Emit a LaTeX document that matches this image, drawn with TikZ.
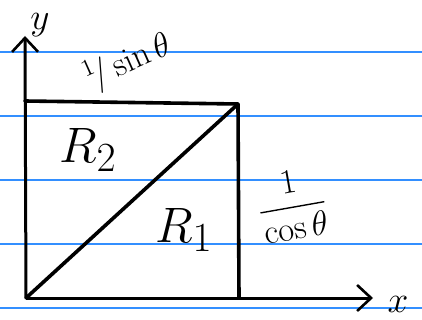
\documentclass[tikz,border=0pt]{standalone}
\usepackage{amsmath}
\usetikzlibrary{arrows.meta}
\begin{document}
\begin{tikzpicture}[x=1pt,y=-1pt,
  ruled/.style={draw=blue!55!cyan!80, line width=1.3pt},
  axisline/.style={line width=3pt, -{Straight Barb[length=14pt,width=26pt,line width=2.6pt]}},
  edge/.style={line width=3.6pt, line cap=round, line join=round},
  lbl/.style={inner sep=0pt, font=\huge, scale=1.8, transform shape},
  big/.style={inner sep=0pt, font=\Huge, scale=2, transform shape},
  frac/.style={inner sep=0pt, font=\LARGE, scale=2, transform shape}]
\useasboundingbox (0,0) rectangle (422,320);
\fill[white] (0,0) rectangle (422,320);
% ruled paper lines
\foreach \yy in {52,116,180,244,308}
  \draw[ruled] (0,\yy) -- (422,\yy);
% corners
\coordinate (O) at (26,298);
\coordinate (A) at (25,101);
\coordinate (B) at (238,104);
\coordinate (C) at (239,298);
\coordinate (Yend) at (25,36);
\coordinate (Xend) at (373,298);
% axes
\draw[axisline] (O) -- (Yend);
\draw[axisline] (O) -- (Xend);
% rectangle and diagonal
\draw[edge] (A) -- (B) -- (C);
\draw[edge] (O) -- (B);
% labels
\node[lbl] (ylab) at (40,25) {$y$};
\node[lbl] (xlab) at (398,304) {$x$};
\node[frac, rotate=24] (top) at (128,62) {$^{1}\!/\sin\theta$};
\node[big] (r2) at (88,150) {$R_2$};
\node[big] (r1) at (184,230) {$R_1$};
\node[frac, rotate=10] (right) at (292,205) {$\dfrac{1}{\cos\theta}$};
\end{tikzpicture}
\end{document}
